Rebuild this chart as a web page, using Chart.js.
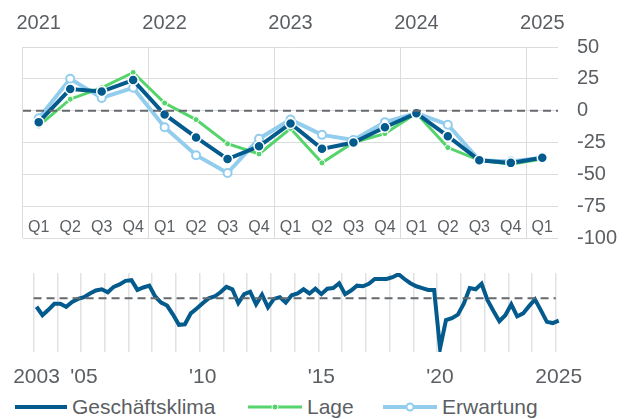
<!DOCTYPE html>
<html>
<head>
<meta charset="utf-8">
<script src="https://cdn.jsdelivr.net/npm/chart.js@4/dist/chart.umd.min.js"></script>
<style>
  body { margin: 0; background: #fff; font-family: "Liberation Sans", Arial, sans-serif; }
  #wrap { position: relative; width: 630px; height: 419px; }
  .box { position: absolute; left: 0; width: 630px; }
  .item { position: absolute; top: 395px; height: 24px; display: flex; align-items: center; font-size: 21px; color: #5b5f63; }
  .item svg { margin-right: 5px; }
</style>
</head>
<body>
<div id="wrap">
  <div class="box" style="top:250px;height:145px"><canvas id="bottomChart"></canvas></div>
  <div class="box" style="top:0;height:250px"><canvas id="topChart"></canvas></div>
  <div class="item" style="left:15px">
    <svg width="52" height="24"><line x1="0" y1="12" x2="52" y2="12" stroke="#035a8c" stroke-width="4"/></svg>Geschäftsklima
  </div>
  <div class="item" style="left:248px">
    <svg width="54" height="24"><line x1="0" y1="12" x2="54" y2="12" stroke="#55d46c" stroke-width="3"/><circle cx="27" cy="12" r="3" fill="#55d46c" stroke="#fff" stroke-width="1"/></svg>Lage
  </div>
  <div class="item" style="left:383px">
    <svg width="54" height="24"><line x1="0" y1="12" x2="54" y2="12" stroke="#92cdee" stroke-width="4"/><circle cx="27" cy="12" r="3.5" fill="#fff" stroke="#92cdee" stroke-width="2"/></svg>Erwartung
  </div>
</div>
<script>
// quarterly detail 2021 Q1 - 2025 Q1
var categories = ['2021 Q1', '2021 Q2', '2021 Q3', '2021 Q4',
                  '2022 Q1', '2022 Q2', '2022 Q3', '2022 Q4',
                  '2023 Q1', '2023 Q2', '2023 Q3', '2023 Q4',
                  '2024 Q1', '2024 Q2', '2024 Q3', '2024 Q4',
                  '2025 Q1'];
var klima     = [-9, 17, 15, 24, -3, -21, -38, -28, -10, -30, -25, -13, -2, -20, -39, -41, -37];
var lage      = [-12, 9, 18, 30, 6, -7, -26, -34, -14, -41, -25, -18, -2, -29, -39, -42, -38];
var erwartung = [-6, 25, 10, 18, -13, -35, -49, -22, -7, -19, -23, -9, -2, -11, -39, -40, -37];

// long history of Geschäftsklima, 2003 Q1 - 2020 Q4 (continues with klima above)
var klimaHistory = [-14, -28, -19, -9, -9, -14, -6, -1,
                    2, 8, 13, 15, 10, 19, 23, 29,
                    30, 14, 18, 21, 3, -7, -12, -27,
                    -44, -43, -25, -17, -8, 0, 3, 10,
                    19, 15, -8, 7, 11, -10, 6, -15,
                    -1, 2, -7, 5, 8, 15, 8, 16,
                    7, 16, 17, 25, 7, 13, 21, 20,
                    24, 32, 32, 32, 35, 40, 32, 25,
                    20, 17, 14, 14, -83, -36, -33, -27];
var longYears = [2003, 2004, 2005, 2006, 2007, 2008, 2009, 2010, 2011, 2012, 2013, 2014,
                 2015, 2016, 2017, 2018, 2019, 2020, 2021, 2022, 2023, 2024, 2025];
var longTickYears = [2003, 2005, 2010, 2015, 2020, 2025];
var longTickText  = ['2003', "'05", "'10", "'15", "'20", '2025'];

var DARK = '#035a8c', GREEN = '#55d46c', LIGHT = '#92cdee';
var TEXT = '#5b5f63', GRID = '#dcdcdc';
var FONT = '"Liberation Sans", Arial, sans-serif';

var longLabels = [];
longYears.forEach(function (y) {
  ['Q1', 'Q2', 'Q3', 'Q4'].forEach(function (q) {
    if (longLabels.length < klimaHistory.length + klima.length) longLabels.push(y + ' ' + q);
  });
});
var klimaLong = klimaHistory.concat(klima);

// dashed zero line
var zeroLine = {
  id: 'zeroLine',
  afterDatasetsDraw: function (chart, args, opts) {
    var a = chart.chartArea, x = chart.scales.x;
    var y = chart.scales.y.getPixelForValue(0);
    var right = a.right;
    if (opts.toLastYear) {
      var n = chart.data.labels.length;
      right = x.getPixelForValue(n - 1) - (x.getPixelForValue(1) - x.getPixelForValue(0)) / 2;
    }
    var ctx = chart.ctx;
    ctx.save();
    ctx.strokeStyle = '#666a6e';
    ctx.lineWidth = 2;
    ctx.setLineDash([8, 5]);
    ctx.beginPath();
    ctx.moveTo(a.left, y);
    ctx.lineTo(right, y);
    ctx.stroke();
    ctx.restore();
  }
};

function yearGrid(color) {
  return function (c) { return c.index % 4 === 0 ? color : 'rgba(0,0,0,0)'; };
}

new Chart(document.getElementById('topChart'), {
  type: 'line',
  data: {
    labels: categories,
    datasets: [
      { label: 'Geschäftsklima', data: klima, borderColor: DARK, borderWidth: 4,
        pointRadius: 5, pointBackgroundColor: DARK, pointBorderColor: '#fff', pointBorderWidth: 1.5 },
      { label: 'Lage', data: lage, borderColor: GREEN, borderWidth: 3,
        pointRadius: 3, pointBackgroundColor: GREEN, pointBorderColor: '#fff', pointBorderWidth: 1 },
      { label: 'Erwartung', data: erwartung, borderColor: LIGHT, borderWidth: 4,
        pointRadius: 4, pointBackgroundColor: '#fff', pointBorderColor: LIGHT, pointBorderWidth: 2 }
    ]
  },
  options: {
    responsive: true, maintainAspectRatio: false, animation: false, devicePixelRatio: 1,
    layout: { padding: { left: 23, right: 0, top: 0, bottom: 0 } },
    plugins: { legend: { display: false }, tooltip: { enabled: false }, zeroLine: {} },
    scales: {
      x: {
        position: 'bottom', offset: true,
        grid: { display: false, drawTicks: false }, border: { display: false },
        ticks: { color: TEXT, font: { family: FONT, size: 16 }, mirror: true, padding: 1, maxRotation: 0, autoSkip: false,
                 callback: function (v, i) { return categories[i].split(' ')[1]; } },
        afterFit: function (s) { s.height = 12; }
      },
      xTop: {
        type: 'category', position: 'top', offset: true,
        grid: { offset: true, drawTicks: false, color: yearGrid(GRID), lineWidth: 1 },
        border: { display: false },
        ticks: { color: TEXT, font: { family: FONT, size: 20 }, padding: 12, maxRotation: 0, autoSkip: false,
                 callback: function (v, i) { return i % 4 === 0 ? categories[i].split(' ')[0] : ''; } },
        afterFit: function (s) { s.height = 47; }
      },
      y: {
        position: 'right', min: -100, max: 50,
        grid: { color: GRID, drawTicks: false }, border: { display: false },
        ticks: { stepSize: 25, color: TEXT, font: { family: FONT, size: 20 }, padding: 19 },
        afterFit: function (s) { s.width = 72; s.paddingTop = 12; s.paddingBottom = 12; }
      }
    }
  },
  plugins: [zeroLine]
});

new Chart(document.getElementById('bottomChart'), {
  type: 'line',
  data: {
    labels: longLabels,
    datasets: [
      { label: 'Geschäftsklima', data: klimaLong, borderColor: DARK, borderWidth: 4, pointRadius: 0 }
    ]
  },
  options: {
    responsive: true, maintainAspectRatio: false, animation: false, devicePixelRatio: 1,
    layout: { padding: { left: 29, right: 68.3, top: 23, bottom: 0 } },
    plugins: { legend: { display: false }, tooltip: { enabled: false }, zeroLine: { toLastYear: true } },
    scales: {
      x: {
        offset: true,
        grid: { offset: true, drawTicks: false, color: yearGrid('#e2e2e2'), lineWidth: 1.5 },
        border: { display: false },
        ticks: { color: TEXT, font: { family: FONT, size: 21 }, padding: 13, maxRotation: 0, minRotation: 0, autoSkip: false,
                 callback: function (v, i) {
                   var k = longTickYears.indexOf(parseInt(longLabels[i], 10));
                   return (k >= 0 && longLabels[i].indexOf('Q1') > 0) ? longTickText[k] : '';
                 } },
        afterFit: function (s) { s.height = 43; }
      },
      y: { display: false, min: -89, max: 42 }
    }
  },
  plugins: [zeroLine]
});
</script>
</body>
</html>
